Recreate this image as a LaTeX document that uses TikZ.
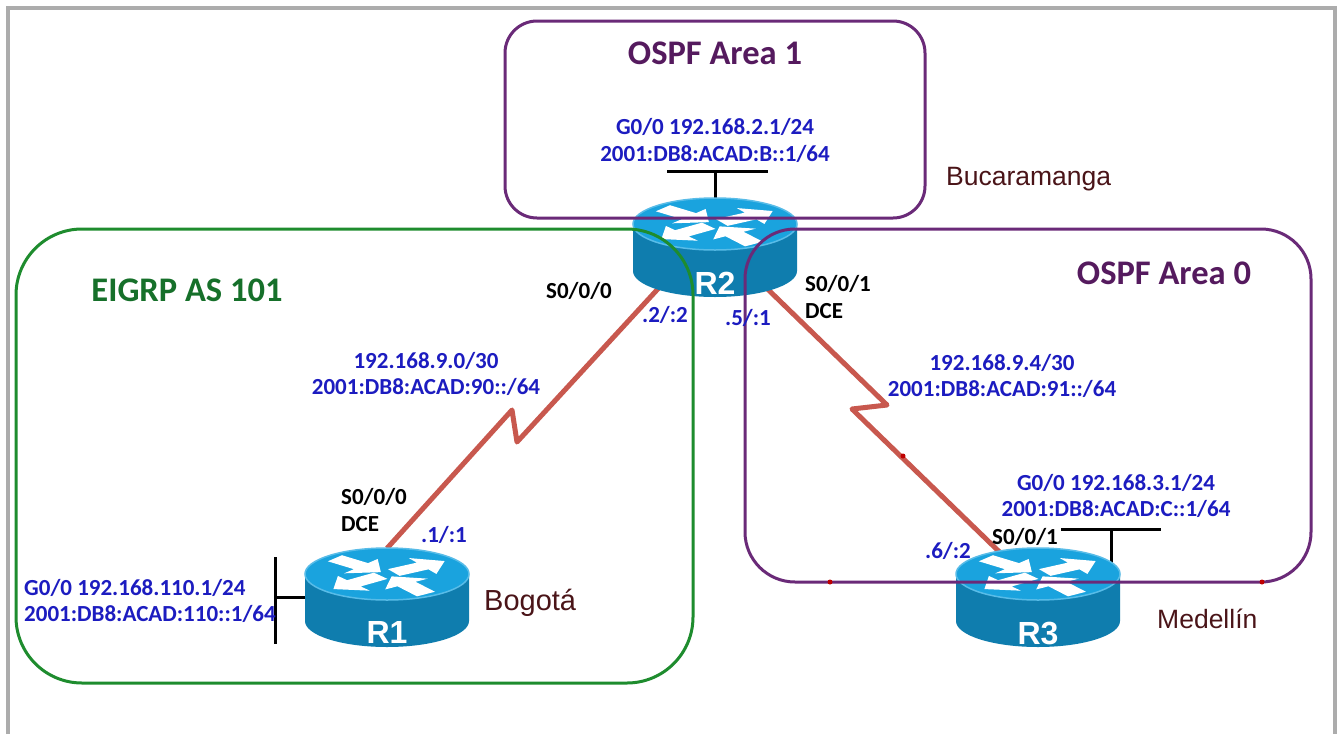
\documentclass[tikz,border=0pt]{standalone}
\usepackage{fontspec}
\setmainfont{Carlito}
\newfontfamily\arialfont{Liberation Sans}
\usetikzlibrary{shapes.geometric}
\definecolor{addrblue}{HTML}{1C1CC0}
\definecolor{areapurple}{HTML}{6A2A78}
\definecolor{titlepurple}{HTML}{551A5E}
\definecolor{areagreen}{HTML}{1E8C2E}
\definecolor{titlegreen}{HTML}{16702A}
\definecolor{serialred}{HTML}{C8584E}
\definecolor{routertop}{HTML}{1AA3DE}
\definecolor{routerside}{HTML}{0F7DAE}
\definecolor{routerrim}{HTML}{58BCE8}
\definecolor{placebrown}{HTML}{4A1418}
\tikzstyle{router} = [ellipse, minimum width=164pt, minimum height=98pt, inner sep=0pt]
\tikzstyle{routername} = [text=white, font=\arialfont\bfseries\fontsize{32}{34}\selectfont, inner sep=0pt]
\tikzstyle{addr} = [text=addrblue, align=center, font=\bfseries\fontsize{23}{26.5}\selectfont, inner sep=0pt]
\tikzstyle{port} = [text=black, align=left, font=\bfseries\fontsize{23}{27}\selectfont, inner sep=0pt]
\tikzstyle{place} = [text=placebrown, font=\arialfont\fontsize{26.5}{28}\selectfont, inner sep=0pt]
\tikzstyle{areaframe} = [draw=areapurple, line width=3pt, rounded corners=32pt]
\tikzstyle{areatitle} = [text=titlepurple, font=\bfseries\fontsize{34.5}{38}\selectfont, inner sep=0pt]
\tikzstyle{serial} = [draw=serialred, line width=5pt, line join=round]
\tikzstyle{lan} = [draw=black, line width=3pt]
\tikzstyle{reddot} = [circle, fill=red!75!black, minimum size=5pt, inner sep=0pt]
\newcommand{\routerbody}[1]{
    \begin{scope}[shift={(#1.center)}]
        \fill [routerside] (-82,-23.5) -- (-82,23.5) arc [start angle=180, end angle=360, x radius=82pt, y radius=26pt] -- (82,-23.5) -- cycle;
        \draw [routerrim, line width=1.5pt, fill=routertop] (0,-23.5) ellipse [x radius=82pt, y radius=26pt];
        \foreach \ang in {32,218} {
            \fill [white, shift={(0,-23.5)}, yscale=.36, rotate=\ang] (8,-11) -- (42,-11) -- (42,-26) -- (68,0) -- (42,26) -- (42,11) -- (8,11) -- cycle;
        }
        \foreach \ang in {140,305} {
            \fill [white, shift={(0,-23.5)}, yscale=.36, rotate=\ang] (68,-11) -- (34,-11) -- (34,-26) -- (8,0) -- (34,26) -- (34,11) -- (68,11) -- cycle;
        }
    \end{scope}
}
\begin{document}
\begin{tikzpicture}[x=1pt, y=-1pt, node distance=100pt]
    \useasboundingbox (0,0) rectangle (1342,734);
    \fill [white] (0,0) rectangle (1342,734);
    \draw [gray!65, line width=3.5pt] (8,734) -- (8,8) -- (1335,8) -- (1335,734);
    % routers, bodies come later so the links end behind them
    \node [router] at (387,597.5) (R1) {};
    \node [router, right of=R1, node distance=651pt] (R3) {};
    \node [router] at (715,247.5) (R2) {};
    \coordinate (lanR1) at (275,557);
    \coordinate (lanR1b) at (275,644);
    \coordinate (lanR2) at (667,171);
    \coordinate (lanR2b) at (768,171);
    \coordinate (lanR3) at (1061,529);
    \coordinate (lanR3b) at (1161,529);
    \coordinate (kinkA) at (512,410);
    \coordinate (kinkB) at (517,442);
    \coordinate (kinkC) at (887,405);
    \coordinate (kinkD) at (852,409);
    \draw [lan] (lanR1) -- (lanR1b);
    \draw [lan] (R1) -- (R1 -| lanR1);
    \draw [lan] (lanR2) -- (lanR2b);
    \draw [lan] (R2) -- (R2 |- lanR2);
    \draw [lan] (lanR3) -- (lanR3b);
    \draw [lan] (1111,529) -- (1111,570);
    \draw [serial] (R1.north) -- (kinkA) -- (kinkB) -- (R2.215);
    \draw [serial] (R2.322) -- (kinkC) -- (kinkD) -- (R3.130);
    \routerbody{R1}
    \routerbody{R2}
    \routerbody{R3}
    \node [routername, below of=R1, node distance=35pt] (nameR1) {R1};
    \node [routername, below of=R2, node distance=36pt] (nameR2) {R2};
    \node [routername, below of=R3, node distance=36pt] (nameR3) {R3};
    % areas go over the routers
    \draw [areaframe] (505,21) rectangle (925,218);
    \draw [areaframe, rounded corners=50pt] (745,229) rectangle (1311,582);
    \draw [areaframe, draw=areagreen, rounded corners=66pt] (16,229) rectangle (693,683);
    \node [reddot] at (830,582) (dotA) {};
    \node [reddot] at (1262,582) (dotB) {};
    \node [reddot] at (903,456) (dotC) {};
    \node [areatitle] at (715,53) (area1) {OSPF Area 1};
    \node [areatitle] at (1164,273) (area0) {OSPF Area 0};
    \node [areatitle, text=titlegreen] at (187,290) (eigrp) {EIGRP AS 101};
    \node [addr, above of=R2, node distance=107pt] (addrR2) {G0/0 192.168.2.1/24\\2001:DB8:ACAD:B::1/64};
    \node [addr] at (1116,496) (addrR3) {G0/0 192.168.3.1/24\\2001:DB8:ACAD:C::1/64};
    \node [addr, align=left, anchor=west] at (24,601) (addrR1) {G0/0 192.168.110.1/24\\2001:DB8:ACAD:110::1/64};
    \node [addr] at (426,374) (netA) {192.168.9.0/30\\2001:DB8:ACAD:90::/64};
    \node [addr] at (1002,376) (netB) {192.168.9.4/30\\2001:DB8:ACAD:91::/64};
    \node [addr] at (665,315) (dotR2a) {.2/:2};
    \node [addr] at (748,318) (dotR2b) {.5/:1};
    \node [addr] at (444,535) (dotR1) {.1/:1};
    \node [addr] at (948,551) (dotR3) {.6/:2};
    \node [port] at (579,291) (portR2a) {S0/0/0};
    \node [port, anchor=west] at (805,297) (portR2b) {S0/0/1\\DCE};
    \node [port, anchor=west] at (341,510) (portR1) {S0/0/0\\DCE};
    \node [port] at (1025,537) (portR3) {S0/0/1};
    \node [place, anchor=west] at (946,179) (cityR2) {Bucaramanga};
    \node [place, anchor=west, font=\arialfont\fontsize{29}{30}\selectfont] at (484,603) (cityR1) {Bogotá};
    \node [place, anchor=west] at (1157,619) (cityR3) {Medellín};
\end{tikzpicture}
\end{document}
